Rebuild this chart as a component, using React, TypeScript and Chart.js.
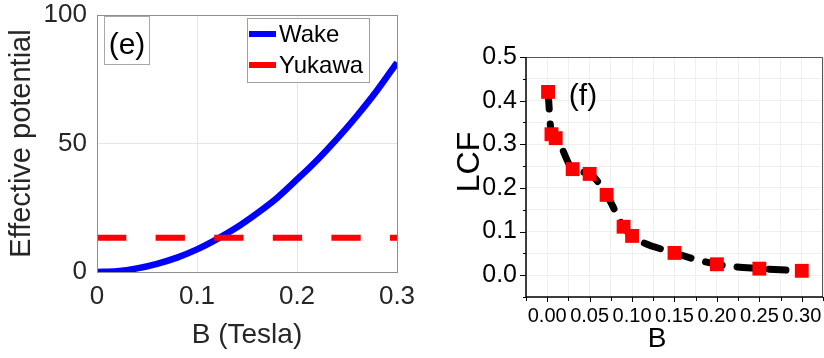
import React, { useEffect, useRef } from "react";
import { Chart, registerables } from "chart.js";
Chart.register(...registerables);

// Panel (e): effective potential vs B
const wakeB = [0, 0.02, 0.04, 0.06, 0.08, 0.1, 0.12, 0.14, 0.16, 0.18, 0.2, 0.22, 0.24, 0.26, 0.28, 0.3];
const wakeV = [0, 0.3, 1.4, 3.2, 5.6, 8.8, 12.8, 17.4, 22.8, 28.8, 36, 43.5, 51.8, 60.8, 70.6, 81.5];
const yukawaB = [0, 0.3];
const yukawaV = [13.3, 13.3];
const legendLabels = ["Wake", "Yukawa"];
const eXTicks = [0, 0.1, 0.2, 0.3];
const eYTicks = [0, 50, 100];

// Panel (f): LCF vs B
const lcfB = [0.001, 0.005, 0.01, 0.03, 0.05, 0.07, 0.09, 0.1, 0.15, 0.2, 0.25, 0.3];
const lcfV = [0.42, 0.323, 0.314, 0.243, 0.232, 0.184, 0.111, 0.09, 0.051, 0.025, 0.015, 0.01];

const FONT = "'Liberation Sans', Arial, sans-serif";

const zeroPad = (s: any) => {
  s.paddingLeft = 0;
  s.paddingRight = 0;
  s.paddingTop = 0;
  s.paddingBottom = 0;
};

const leftDecor = {
  id: "leftDecor",
  afterDraw(chart: any) {
    const { ctx, chartArea: a } = chart;
    ctx.save();
    ctx.strokeStyle = "#8f8f8f";
    ctx.lineWidth = 1;
    ctx.strokeRect(a.left + 0.5, a.top + 0.5, a.right - a.left, a.bottom - a.top);
    // (e) box
    ctx.fillStyle = "#fff";
    ctx.fillRect(104, 16, 45, 48);
    ctx.strokeStyle = "#a8a8a8";
    ctx.strokeRect(104.5, 16.5, 45, 48);
    ctx.fillStyle = "#000";
    ctx.font = `30px ${FONT}`;
    ctx.textAlign = "center";
    ctx.textBaseline = "middle";
    ctx.fillText("(e)", 127, 46);
    // legend
    ctx.fillStyle = "#fff";
    ctx.fillRect(247, 18, 122, 64);
    ctx.strokeStyle = "#a0a0a0";
    ctx.strokeRect(247.5, 18.5, 122, 64);
    const colors = ["#0000ff", "#ff0000"];
    const ys = [34, 65];
    ctx.font = `24px ${FONT}`;
    ctx.textAlign = "left";
    legendLabels.forEach((l, i) => {
      ctx.strokeStyle = colors[i];
      ctx.lineWidth = 6;
      ctx.beginPath();
      ctx.moveTo(249, ys[i]);
      ctx.lineTo(276, ys[i]);
      ctx.stroke();
      ctx.fillStyle = "#000";
      ctx.fillText(l, 279, ys[i] + 1);
    });
    ctx.restore();
  },
};

const rightDecor = {
  id: "rightDecor",
  afterDraw(chart: any) {
    const { ctx, chartArea: a, scales } = chart;
    const xs = scales.x;
    const ys = scales.y;
    ctx.save();
    // top & right frame
    ctx.strokeStyle = "#555";
    ctx.lineWidth = 1;
    ctx.beginPath();
    ctx.moveTo(a.left, a.top + 0.5);
    ctx.lineTo(a.right - 0.5, a.top + 0.5);
    ctx.lineTo(a.right - 0.5, a.bottom);
    ctx.stroke();
    // axes
    ctx.strokeStyle = "#000";
    ctx.lineWidth = 1.5;
    ctx.beginPath();
    ctx.moveTo(a.left, a.top);
    ctx.lineTo(a.left, a.bottom);
    ctx.lineTo(a.right, a.bottom);
    ctx.stroke();
    // ticks
    ctx.lineWidth = 1;
    ys.ticks.forEach((t: any) => {
      const p = Math.round(ys.getPixelForValue(t.value)) + 0.5;
      const major = Math.abs(Math.round(t.value * 100) % 10) === 0;
      ctx.beginPath();
      ctx.moveTo(a.left, p);
      ctx.lineTo(a.left - (major ? 6 : 3), p);
      ctx.stroke();
    });
    xs.ticks.forEach((t: any) => {
      const p = Math.round(xs.getPixelForValue(t.value)) + 0.5;
      const major = Math.abs(Math.round(t.value * 1000) % 50) === 0;
      ctx.beginPath();
      ctx.moveTo(p, a.bottom);
      ctx.lineTo(p, a.bottom + (major ? 5 : 4));
      ctx.stroke();
    });
    // titles
    ctx.fillStyle = "#000";
    ctx.textAlign = "center";
    ctx.textBaseline = "middle";
    ctx.font = `28px ${FONT}`;
    ctx.fillText("B", 237, 339);
    ctx.font = `30px ${FONT}`;
    ctx.fillText("(f)", 163, 97);
    ctx.save();
    ctx.translate(48, 162);
    ctx.rotate(-Math.PI / 2);
    ctx.font = `32px ${FONT}`;
    ctx.fillText("LCF", 0, 2);
    ctx.restore();
    ctx.restore();
  },
};

export default function App() {
  const leftRef = useRef<HTMLCanvasElement>(null);
  const rightRef = useRef<HTMLCanvasElement>(null);

  useEffect(() => {
    const left = new Chart(leftRef.current!, {
      type: "line",
      data: {
        datasets: [
          {
            label: legendLabels[1],
            data: yukawaB.map((b, i) => ({ x: b, y: yukawaV[i] })),
            borderColor: "#ff0000",
            borderWidth: 6,
            borderDash: [29.3, 29.3],
            pointRadius: 0,
            order: 0,
          },
          {
            label: legendLabels[0],
            data: wakeB.map((b, i) => ({ x: b, y: wakeV[i] })),
            borderColor: "#0000ff",
            borderWidth: 6.5,
            pointRadius: 0,
            cubicInterpolationMode: "monotone",
            order: 1,
          },
        ],
      },
      options: {
        responsive: false,
        animation: false,
        layout: { autoPadding: false, padding: { top: 15, right: 23, left: 0, bottom: 0 } },
        plugins: { legend: { display: false }, tooltip: { enabled: false } },
        scales: {
          x: {
            type: "linear",
            min: 0,
            max: 0.3,
            afterBuildTicks: (s: any) => {
              s.ticks = eXTicks.map((v) => ({ value: v }));
            },
            afterFit: (s: any) => {
              s.height = 86;
              zeroPad(s);
            },
            ticks: {
              font: { family: FONT, size: 26 },
              color: "#262626",
              padding: 9,
              maxRotation: 0,
              callback: (v: any) => (v === 0 ? "0" : String(Number(v).toFixed(1))),
            },
            grid: {
              drawTicks: false,
              color: (c: any) => (c.tick && (c.tick.value === 0 || c.tick.value === 0.3) ? "rgba(0,0,0,0)" : "#e6e6e6"),
            },
            border: { display: false },
            title: {
              display: true,
              text: "B (Tesla)",
              font: { family: FONT, size: 28 },
              color: "#262626",
              padding: { top: 0, bottom: 6 },
            },
          },
          y: {
            type: "linear",
            min: 0,
            max: 100,
            afterBuildTicks: (s: any) => {
              s.ticks = eYTicks.map((v) => ({ value: v }));
            },
            afterFit: (s: any) => {
              s.width = 97;
              zeroPad(s);
            },
            ticks: {
              font: { family: FONT, size: 26 },
              color: "#262626",
              padding: 10,
            },
            grid: {
              drawTicks: false,
              color: (c: any) => (c.tick && (c.tick.value === 0 || c.tick.value === 100) ? "rgba(0,0,0,0)" : "#e6e6e6"),
            },
            border: { display: false },
            title: {
              display: true,
              text: "Effective potential",
              font: { family: FONT, size: 29 },
              color: "#262626",
              padding: { top: 5, bottom: 0 },
            },
          },
        },
      },
      plugins: [leftDecor],
    } as any);

    const right = new Chart(rightRef.current!, {
      type: "line",
      data: {
        datasets: [
          {
            label: "LCF",
            data: lcfB.map((b, i) => ({ x: b, y: lcfV[i] })),
            borderColor: "#000",
            borderWidth: 7,
            borderDash: [17, 15],
            borderCapStyle: "round",
            cubicInterpolationMode: "monotone",
            pointStyle: "rect",
            pointRadius: 9.8,
            pointBackgroundColor: "#ff0000",
            pointBorderColor: "#ff0000",
            pointBorderWidth: 0,
          },
        ],
      },
      options: {
        responsive: false,
        animation: false,
        layout: { autoPadding: false, padding: { top: 57, right: 1, left: 0, bottom: 0 } },
        plugins: { legend: { display: false }, tooltip: { enabled: false } },
        scales: {
          x: {
            type: "linear",
            min: -0.025,
            max: 0.325,
            ticks: {
              stepSize: 0.025,
              autoSkip: false,
              maxRotation: 0,
              font: { family: FONT, size: 20 },
              color: "#000",
              padding: 7,
              callback: (v: any) => {
                const m = Math.round(Number(v) * 1000);
                if (m < 0 || m > 300 || m % 50 !== 0) return "";
                return (m / 1000).toFixed(2);
              },
            },
            afterFit: (s: any) => {
              s.height = 61;
              zeroPad(s);
            },
            grid: { drawTicks: false, color: "#efefef" },
            border: { display: false },
          },
          y: {
            type: "linear",
            min: -0.05,
            max: 0.5,
            ticks: {
              stepSize: 0.05,
              autoSkip: false,
              font: { family: FONT, size: 25 },
              color: "#000",
              padding: 9,
              callback: (v: any) => {
                const m = Math.round(Number(v) * 100);
                if (m < 0 || m % 10 !== 0) return "";
                return (m / 100).toFixed(1);
              },
            },
            afterFit: (s: any) => {
              s.width = 106;
              zeroPad(s);
            },
            grid: { drawTicks: false, color: "#efefef" },
            border: { display: false },
          },
        },
      },
      plugins: [rightDecor],
    } as any);

    return () => {
      left.destroy();
      right.destroy();
    };
  }, []);

  return (
    <div style={{ position: "absolute", left: 0, top: 0, width: 824, height: 358, background: "#fff" }}>
      <canvas ref={leftRef} width={420} height={358} style={{ position: "absolute", left: 0, top: 0 }} />
      <canvas ref={rightRef} width={404} height={358} style={{ position: "absolute", left: 420, top: 0 }} />
    </div>
  );
}
